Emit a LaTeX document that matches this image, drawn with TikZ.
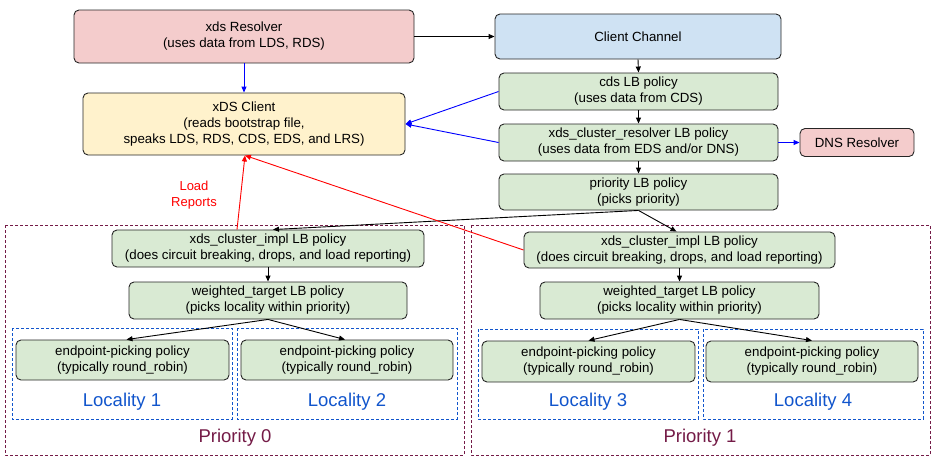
\documentclass[tikz,border=0pt]{standalone}
\usepackage{fontspec}
\setmainfont{Liberation Sans}
\usetikzlibrary{arrows.meta}
\definecolor{pinkf}{HTML}{F4CCCC}
\definecolor{yellowf}{HTML}{FFF2CC}
\definecolor{bluef}{HTML}{CFE2F3}
\definecolor{greenf}{HTML}{D9EAD3}
\definecolor{prioc}{HTML}{741B47}
\definecolor{locc}{HTML}{1155CC}
\definecolor{arrblue}{HTML}{0000FF}
\definecolor{arrred}{HTML}{FF0000}
\begin{document}
\begin{tikzpicture}[x=1pt,y=-1pt,
  box/.style={draw=black!85, line width=0.9pt, rounded corners=5pt, inner sep=0pt, align=center,
    font=\fontsize{13.3}{16}\selectfont},
  arr/.style={line width=0.9pt, -{Triangle[length=6pt,width=5pt]}},
  priobox/.style={draw=prioc, line width=0.9pt, dash pattern=on 3pt off 2pt},
  locbox/.style={draw=locc, line width=0.9pt, dash pattern=on 3pt off 2pt},
  loctext/.style={text=locc, font=\fontsize{18.5}{22}\selectfont, inner sep=0pt},
  priotext/.style={text=prioc, font=\fontsize{18.5}{22}\selectfont, inner sep=0pt}]
\useasboundingbox (0,0) rectangle (936,463);

% priority and locality frames
\draw[priobox] (5,225) rectangle (464,455);
\draw[priobox] (471,225) rectangle (930,455);
\draw[locbox] (12,328) rectangle (232,419);
\draw[locbox] (237,328) rectangle (457,419);
\draw[locbox] (478,329) rectangle (698,419);
\draw[locbox] (703,329) rectangle (923,419);

% top nodes
\node[box, fill=pinkf, minimum width=340pt, minimum height=53pt] (xres) at (244,36.5) {xds Resolver\\(uses data from LDS, RDS)};
\node[box, fill=yellowf, minimum width=322pt, minimum height=62pt] (xcl) at (244,124) {xDS Client\\(reads bootstrap file,\\speaks LDS, RDS, CDS, EDS, and LRS)};
\node[box, fill=bluef, minimum width=286pt, minimum height=45pt] (cc) at (638,36.5) {Client Channel};
\node[box, fill=greenf, minimum width=279pt, minimum height=37pt] (cds) at (638.5,91.5) {cds LB policy\\(uses data from CDS)};
\node[box, fill=greenf, minimum width=279pt, minimum height=37pt] (cr) at (638.5,142.5) {xds\_cluster\_resolver LB policy\\(uses data from EDS and/or DNS)};
\node[box, fill=pinkf, minimum width=114pt, minimum height=28pt] (dns) at (857,142.5) {DNS Resolver};
\node[box, fill=greenf, minimum width=279pt, minimum height=36pt] (prio) at (638.5,192) {priority LB policy\\(picks priority)};

% priority 0
\node[box, fill=greenf, minimum width=312pt, minimum height=37pt] (ci0) at (268,248.5) {xds\_cluster\_impl LB policy\\(does circuit breaking, drops, and load reporting)};
\node[box, fill=greenf, minimum width=278pt, minimum height=37pt] (wt0) at (268,300.5) {weighted\_target LB policy\\(picks locality within priority)};
\node[box, fill=greenf, minimum width=213pt, minimum height=40pt] (ep1) at (122.5,360) {endpoint-picking policy\\(typically round\_robin)};
\node[box, fill=greenf, minimum width=212pt, minimum height=40pt] (ep2) at (347,360) {endpoint-picking policy\\(typically round\_robin)};

% priority 1
\node[box, fill=greenf, minimum width=311pt, minimum height=36pt] (ci1) at (679.5,250) {xds\_cluster\_impl LB policy\\(does circuit breaking, drops, and load reporting)};
\node[box, fill=greenf, minimum width=279pt, minimum height=37pt] (wt1) at (679.5,300.5) {weighted\_target LB policy\\(picks locality within priority)};
\node[box, fill=greenf, minimum width=213pt, minimum height=41pt] (ep3) at (588.5,361.5) {endpoint-picking policy\\(typically round\_robin)};
\node[box, fill=greenf, minimum width=212pt, minimum height=41pt] (ep4) at (812,361.5) {endpoint-picking policy\\(typically round\_robin)};

% labels
\node[loctext] (l1) at (122,402) {Locality 1};
\node[loctext] (l2) at (347,402) {Locality 2};
\node[loctext] (l3) at (588,402) {Locality 3};
\node[loctext] (l4) at (813,402) {Locality 4};
\node[priotext] (p0) at (235,438) {Priority 0};
\node[priotext] (p1) at (700,438) {Priority 1};
\node[text=arrred, align=center, inner sep=0pt, font=\fontsize{13}{16}\selectfont] (lr) at (194,195) {Load\\Reports};

% connectors
\draw[arr] (xres.east) -- (cc.west);
\draw[arr, draw=arrblue, fill=arrblue] (xres.south) -- (xcl.north);
\draw[arr] (cc.south) -- (cds.north);
\draw[arr] (cds.south) -- (cr.north);
\draw[arr] (cr.south) -- (prio.north);
\draw[arr, draw=arrblue] (cds.west) -- (xcl.east);
\draw[arr, draw=arrblue] (cr.west) -- (xcl.east);
\draw[arr, draw=arrblue] (cr.east) -- (dns.west);
\draw[arr] (prio.south) -- ([xshift=5pt]ci0.north);
\draw[arr] (prio.south) -- ([xshift=-3pt]ci1.north);
\draw[arr, draw=arrred] ([xshift=-31pt]ci0.north) -- ([xshift=1pt]xcl.south);
\draw[arr, draw=arrred] (ci1.west) -- ([xshift=1pt]xcl.south);
\draw[arr] (ci0.south) -- (wt0.north);
\draw[arr] (ci1.south) -- (wt1.north);
\draw[arr] (wt0.south) -- ([xshift=4pt]ep1.north);
\draw[arr] (wt0.south) -- ([xshift=-2pt]ep2.north);
\draw[arr] (wt1.south) -- (ep3.north);
\draw[arr] (wt1.south) -- (ep4.north);
\end{tikzpicture}
\end{document}
